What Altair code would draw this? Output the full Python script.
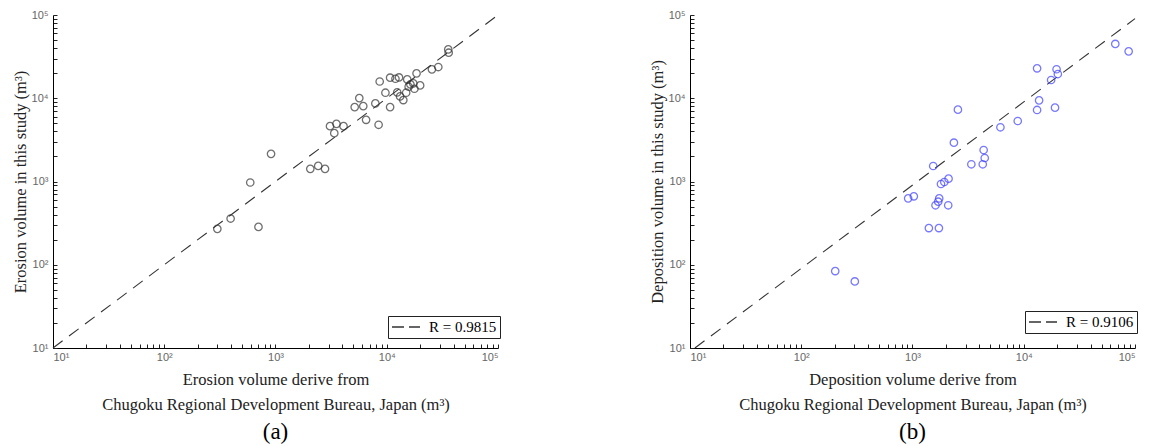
import altair as alt
import pandas as pd

# ---- Panel (a): erosion ----
ero_ref = [300, 395, 593, 703, 912, 2055, 2420, 2787, 3090, 3375, 3530, 4090, 5150,
           5665, 6150, 6520, 7900, 8450, 8640, 9730, 10720, 10720, 11970, 12890,
           12420, 13180, 14090, 14940, 15280, 15740, 16330, 17330, 17720, 18530,
           19960, 25470, 29060, 35720, 36040]
ero_est = [270, 359, 973, 285, 2150, 1420, 1540, 1420, 4625, 3810, 4930, 4625, 7830,
           10050, 8050, 5510, 8670, 4800, 15900, 11650, 17660, 7830, 17150, 17780,
           11750, 10520, 9510, 11650, 16830, 13740, 14660, 15070, 13000, 19910,
           14260, 22250, 23720, 38620, 35240]
ero_fit_x = [10, 100000]
ero_fit_y = [10, 100000]
ero_label = "R = 0.9815"

# ---- Panel (b): deposition ----
dep_ref = [202, 303, 914, 1028, 1535, 1403, 1727, 1610, 1702, 1738, 2094, 1803, 1932,
           2109, 2356, 2560, 3380, 4280, 4460, 4360, 6170, 8830, 13180, 13740, 19100,
           13180, 17620, 19720, 20250, 66500, 87700]
dep_est = [84, 63, 628, 664, 1535, 276, 276, 518, 572, 628, 518, 933, 986, 1082, 2925,
           7300, 1610, 1610, 1915, 2390, 4480, 5330, 7230, 9440, 7710, 22900, 16560,
           22300, 19540, 44900, 36600]
dep_fit_x = [11.07, 100000]
dep_fit_y = [10, 90400]
dep_label = "R = 0.9106"

major_ticks = [10, 100, 1000, 10000, 100000]
minor_ticks = [m * d for d in [10, 100, 1000, 10000] for m in range(1, 10)] + [100000]

W, H = 445, 333
SERIF = "Liberation Serif"
SANS = "Liberation Sans"
LABEL_EXPR = "'10' + ['\u2070','\u00b9','\u00b2','\u00b3','\u2074','\u2075'][round(log(datum.value)/LN10)]"


def panel(ref, est, fx, fy, rlabel, color, xtitle, ytitle, cap, legy):
    pts = pd.DataFrame({"ref": ref, "est": est})
    fit = pd.DataFrame({"x": fx, "y": fy, "lab": [rlabel] * len(fx)})
    dom = [10, 100000]
    line = alt.Chart(fit).mark_line(strokeDash=[12, 8], strokeWidth=1.1).encode(
        x=alt.X("x:Q", scale=alt.Scale(type="log", domain=dom),
                axis=alt.Axis(orient="top", offset=-H, values=minor_ticks, labels=False,
                              domain=False, ticks=True, tickSize=4, tickColor="#222",
                              grid=False, title="")),
        y=alt.Y("y:Q", scale=alt.Scale(type="log", domain=dom),
                axis=alt.Axis(orient="right", offset=-W, values=minor_ticks, labels=False,
                              domain=False, ticks=True, tickSize=4, tickColor="#222",
                              grid=False, title="")),
        color=alt.Color("lab:N", scale=alt.Scale(range=["#333333"]),
                        legend=alt.Legend(title=None, orient="none", legendX=335, legendY=legy,
                                          symbolType="M-1,0H3", symbolSize=196,
                                          symbolDash=[12, 5], symbolStrokeWidth=1.3,
                                          symbolFillColor="transparent",
                                          strokeColor="#222", fillColor="white",
                                          padding=3, labelFont=SERIF, labelFontSize=15,
                                          labelColor="black", labelOffset=22)),
    )
    dots = alt.Chart(pts).mark_point(shape="circle", filled=False, size=55,
                                     strokeWidth=1.3, color=color).encode(
        x=alt.X("ref:Q", scale=alt.Scale(type="log", domain=dom),
                axis=alt.Axis(values=major_ticks, labelExpr=LABEL_EXPR, ticks=False,
                              grid=False, domainColor="black", labelPadding=3,
                              title=xtitle, titlePadding=9, titleLineHeight=25)),
        y=alt.Y("est:Q", scale=alt.Scale(type="log", domain=dom),
                axis=alt.Axis(values=major_ticks, labelExpr=LABEL_EXPR, ticks=False,
                              grid=False, domainColor="black", labelPadding=5,
                              title=ytitle, titlePadding=3)),
    )
    return alt.layer(line, dots).resolve_scale(x="independent", y="independent").properties(
        width=W, height=H,
        title=alt.TitleParams(text=cap, orient="bottom", font=SERIF, fontSize=23,
                              fontWeight="normal", color="black", offset=8, anchor="middle"),
    )


pa = panel(ero_ref, ero_est, ero_fit_x, ero_fit_y, ero_label, "#333333",
           ["Erosion volume derive from", "Chugoku Regional Development Bureau, Japan (m\u00b3)"],
           "Erosion volume in this study (m\u00b3)", "(a)", 301)
pb = panel(dep_ref, dep_est, dep_fit_x, dep_fit_y, dep_label, "#4040ff",
           ["Deposition volume derive from", "Chugoku Regional Development Bureau, Japan (m\u00b3)"],
           "Deposition volume in this study (m\u00b3)", "(b)", 296)

chart = alt.hconcat(pa, pb, spacing=148).resolve_scale(color="independent").properties(
    padding={"left": 4, "top": 1, "right": 0, "bottom": 0}
).configure_view(strokeWidth=0).configure_axis(
    labelFont=SANS, labelFontSize=11, labelColor="#666666",
    titleFont=SERIF, titleFontSize=16.5, titleFontWeight="normal", titleColor="#222222",
    domainWidth=1,
)

chart.save("out.html", embed_options={"renderer": "svg", "actions": False})
